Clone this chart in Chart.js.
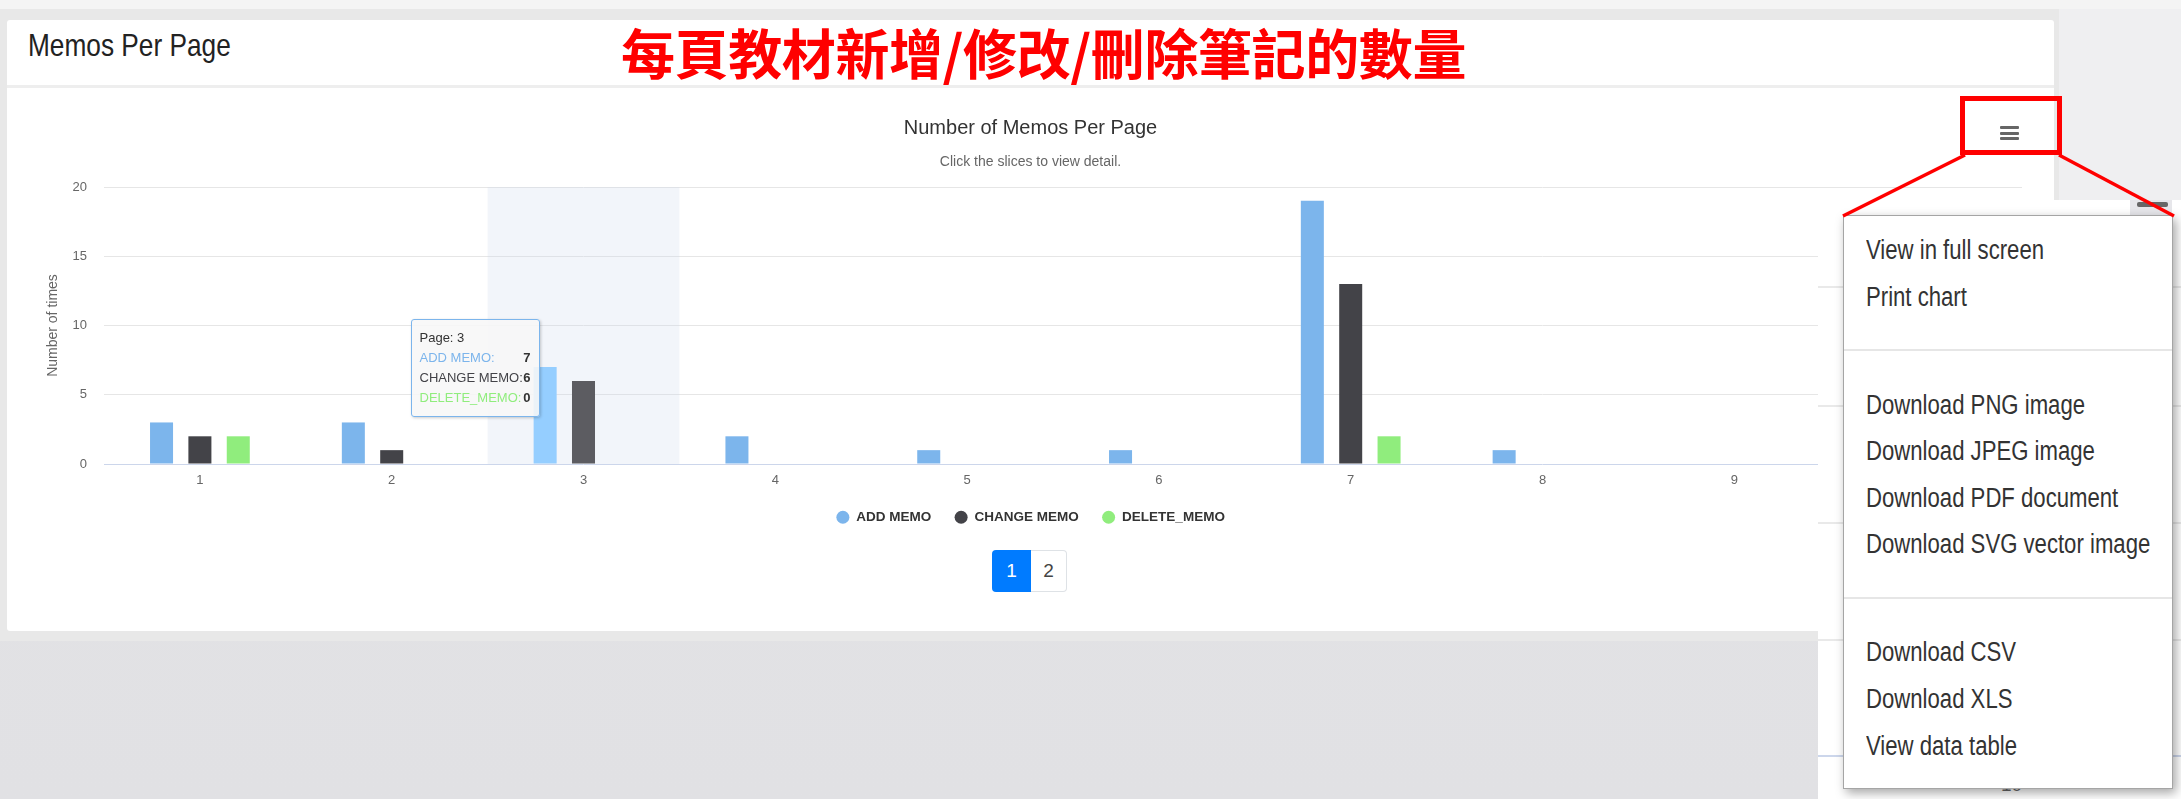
<!DOCTYPE html>
<html>
<head>
<meta charset="utf-8">
<script src="https://cdn.jsdelivr.net/npm/chart.js@4.4.1/dist/chart.umd.min.js"></script>
<style>
  html, body { margin: 0; padding: 0; }
  body {
    width: 2181px; height: 799px; position: relative; overflow: hidden;
    background: linear-gradient(#e4e4e6, #e1e1e4);
    font-family: 'Liberation Sans', Arial, sans-serif;
  }
  .abs { position: absolute; }
  #topStrip { left: 0; top: 0; width: 2181px; height: 9px; background: #f4f4f4; }
  #frame { left: 0; top: 9px; width: 2059px; height: 632px; background: #e8e8e8; }
  #rightBg { left: 2059px; top: 9px; width: 122px; height: 790px; background: #efeff1; }
  #card { left: 7px; top: 20px; width: 2047px; height: 611px; background: #fff; border-radius: 3px; }
  #cardHead { left: 0; top: 0; width: 2047px; height: 65px; border-bottom: 3px solid #eeeeee; }
  #headTitle { left: 21px; top: 9px; font-size: 32px; line-height: 32px; color: #222;
    transform: scaleX(0.82); transform-origin: left center; white-space: nowrap; }
  #redTitle { left: 621px; top: 25px; font-family: 'Noto Sans CJK TC', sans-serif; font-weight: 700;
    font-size: 54px; line-height: 54px; letter-spacing: -0.4px; color: #ff0000; white-space: nowrap; }
  #chartBox { left: 7px; top: 88px; width: 2047px; height: 446px; }
  #chartBox canvas { display: block; }
  #burger { left: 2000px; top: 126px; width: 19px; height: 14px; }
  #burger i { position: absolute; left: 0; width: 19px; height: 3px; background: #666; border-radius: 1px; }
  #tip { display: none; width: 111px; padding: 8px 8px; border: 1px solid #7cb5ec; border-radius: 3px;
    background: rgba(247,247,247,0.88); box-shadow: 1px 1px 3px rgba(0,0,0,0.2);
    font-size: 13px; color: #333; pointer-events: none; }
  #tip .row { display: flex; justify-content: space-between; height: 20px; line-height: 20px; white-space: nowrap; }
  #tip .row b { color: #333; }
  #pager { left: 992px; top: 550px; height: 42px; display: flex; }
  #pager div { height: 42px; line-height: 42px; text-align: center; font-size: 19px; box-sizing: border-box; }
  #pager .on { width: 39px; background: #007bff; color: #fff; border-radius: 4px 0 0 4px; }
  #pager .off { width: 36px; background: #fff; color: #444; border: 1px solid #dee2e6; border-left: none; border-radius: 0 4px 4px 0; line-height: 40px; }
  #paste { left: 1818px; top: 200px; width: 363px; height: 599px; background: #fff; overflow: hidden; }
  #paste .g { position: absolute; left: 0; width: 363px; height: 2px; background: #e9e9e9; }
  #paste .b { background: #ccd6eb; }
  #paste .lbl { position: absolute; left: 183px; top: 574px; font-size: 19px; color: #666; }
  #paste .btn { position: absolute; left: 312px; top: 0; width: 42px; height: 15px; background: #e6e6ea; }
  #paste .btn i { position: absolute; left: 7px; top: 2px; width: 31px; height: 5px; background: #666; border-radius: 2px; }
  #menu { left: 1843px; top: 215px; width: 328px; height: 561px; background: #fff; border: 1px solid #a5a5a5;
    box-shadow: 3px 4px 10px rgba(0,0,0,0.35); padding-top: 11px; box-sizing: content-box; }
  #menu .mi { height: 46.6px; line-height: 46.6px; padding-left: 22px; font-size: 27px; color: #333; white-space: nowrap; }
  #menu .mi span { display: inline-block; transform: scaleX(0.82); transform-origin: left center; }
  #menu .sep { position: relative; height: 61.4px; }
  #menu .sep i { position: absolute; left: 0; right: 0; top: 29px; height: 2px; background: #e6e6e6; }
  #notes { left: 0; top: 0; width: 2181px; height: 799px; pointer-events: none; }
</style>
</head>
<body>
<div id="topStrip" class="abs"></div>
<div id="frame" class="abs"></div>
<div id="rightBg" class="abs"></div>
<div id="card" class="abs">
  <div id="cardHead" class="abs"></div>
  <div id="headTitle" class="abs">Memos Per Page</div>
</div>
<div id="redTitle" class="abs">每頁教材新增/修改/刪除筆記的數量</div>
<div id="chartBox" class="abs">
  <canvas id="memoChart"></canvas>
  <div id="tip" class="abs"></div>
</div>
<div id="burger" class="abs"><i style="top:0"></i><i style="top:5.5px"></i><i style="top:11px"></i></div>
<div id="pager" class="abs"><div class="on">1</div><div class="off">2</div></div>

<div id="paste" class="abs">
  <div class="g" style="top:86px"></div>
  <div class="g" style="top:205px"></div>
  <div class="g" style="top:322px"></div>
  <div class="g" style="top:439px"></div>
  <div class="g b" style="top:555px"></div>
  <div class="lbl">10</div>
  <div class="btn"><i></i></div>
</div>

<div id="menu" class="abs">
  <div class="mi"><span>View in full screen</span></div>
  <div class="mi"><span>Print chart</span></div>
  <div class="sep"><i></i></div>
  <div class="mi"><span>Download PNG image</span></div>
  <div class="mi"><span>Download JPEG image</span></div>
  <div class="mi"><span>Download PDF document</span></div>
  <div class="mi"><span>Download SVG vector image</span></div>
  <div class="sep"><i></i></div>
  <div class="mi"><span>Download CSV</span></div>
  <div class="mi"><span>Download XLS</span></div>
  <div class="mi"><span>View data table</span></div>
</div>

<svg id="notes" class="abs" width="2181" height="799">
  <rect x="1962.5" y="98.5" width="97" height="54" fill="none" stroke="#ff0000" stroke-width="5"/>
  <line x1="1965" y1="155" x2="1843" y2="216" stroke="#ff0000" stroke-width="3.5"/>
  <line x1="2059" y1="155" x2="2174" y2="216" stroke="#ff0000" stroke-width="3.5"/>
</svg>

<script>
// 图表数据
const PAGES = ['1', '2', '3', '4', '5', '6', '7', '8', '9', '10'];
const ADD_MEMO = [3, 3, 7, 2, 1, 1, 19, 1, 0, null];
const CHANGE_MEMO = [2, 1, 6, 0, 0, 0, 13, 0, 0, null];
const DELETE_MEMO = [2, 0, 0, 0, 0, 0, 2, 0, 0, null];
const Y_TICKS = [0, 5, 10, 15, 20];
const SERIES_NAMES = ['ADD MEMO', 'CHANGE MEMO', 'DELETE_MEMO'];
const HOVER_PAGE = '3';

// 颜色
const SERIES_COLORS = ['#7cb5ec', '#434348', '#90ed7d'];
const HOVER_COLORS = ['#95ceff', '#5c5c61', '#a9ff96'];

const hoverIndex = PAGES.indexOf(HOVER_PAGE);

Chart.defaults.font.family = "'Liberation Sans', Arial, sans-serif";

// 悬停列的背景带
const crosshairBand = {
  id: 'crosshairBand',
  beforeDatasetsDraw(chart) {
    const xs = chart.scales.x;
    const area = chart.chartArea;
    const w = xs.width / PAGES.length;
    const cx = xs.getPixelForValue(hoverIndex);
    const ctx = chart.ctx;
    ctx.save();
    ctx.fillStyle = 'rgba(204,214,235,0.25)';
    ctx.fillRect(cx - w / 2, area.top, w, area.bottom - area.top);
    ctx.restore();
  }
};

// HTML 提示框
function htmlTooltip({chart, tooltip}) {
  const el = document.getElementById('tip');
  if (tooltip.opacity === 0 || !tooltip.dataPoints) {
    el.style.display = 'none';
    return;
  }
  const pts = tooltip.dataPoints;
  let html = '<div class="row"><span>Page: ' + pts[0].label + '</span></div>';
  pts.forEach(p => {
    html += '<div class="row"><span style="color:' + SERIES_COLORS[p.datasetIndex] + '">' +
      p.dataset.label + ':</span><b>' + p.raw + '</b></div>';
  });
  el.innerHTML = html;
  const xs = chart.scales.x, ys = chart.scales.y;
  el.style.left = (xs.getPixelForValue(pts[0].dataIndex) - 173) + 'px';
  el.style.top = ys.getPixelForValue(10.5) + 'px';
  el.style.display = 'block';
}

const seriesData = [ADD_MEMO, CHANGE_MEMO, DELETE_MEMO];
const datasets = seriesData.map((data, i) => ({
  label: SERIES_NAMES[i],
  data: data,
  backgroundColor: c => c.dataIndex === hoverIndex ? HOVER_COLORS[i] : SERIES_COLORS[i],
  borderWidth: 0,
  categoryPercentage: 0.6,
  barPercentage: 0.6
}));

const ctx = document.getElementById('memoChart');
const chart = new Chart(ctx, {
  type: 'bar',
  data: { labels: PAGES, datasets: datasets },
  plugins: [crosshairBand],
  options: {
    responsive: true,
    maintainAspectRatio: false,
    animation: false,
    layout: { padding: 0 },
    plugins: {
      title: {
        display: true,
        text: 'Number of Memos Per Page',
        color: '#333',
        font: { size: 20, weight: 'normal' },
        padding: { top: 28, bottom: 0 }
      },
      subtitle: {
        display: true,
        text: 'Click the slices to view detail.',
        color: '#666',
        font: { size: 14 },
        padding: { top: 13.6, bottom: 16.6 }
      },
      legend: {
        position: 'bottom',
        labels: {
          usePointStyle: true,
          pointStyle: 'circle',
          boxWidth: 16,
          boxHeight: 9.2,
          padding: 23,
          color: '#333',
          font: { size: 13.5, weight: 'bold' }
        }
      },
      tooltip: {
        enabled: false,
        mode: 'index',
        intersect: false,
        external: htmlTooltip
      }
    },
    scales: {
      x: {
        grid: { display: false, drawTicks: false },
        border: { display: false },
        ticks: { color: '#666', font: { size: 13 }, padding: 9 },
        afterFit(s) { s.height = 23.5; }
      },
      y: {
        min: 0,
        max: 20,
        afterBuildTicks(s) { s.ticks = Y_TICKS.map(v => ({ value: v })); },
        grid: {
          color: c => c.tick && c.tick.value === 0 ? '#ccd6eb' : '#e6e6e6',
          drawTicks: false
        },
        border: { display: false },
        ticks: { color: '#666', font: { size: 13 }, padding: 17 },
        title: {
          display: true,
          text: 'Number of times',
          color: '#666',
          font: { size: 14 },
          padding: { top: 38.2, bottom: 0 }
        },
        afterFit(s) { s.width = 97; }
      },
      yRight: {
        axis: 'y',
        type: 'linear',
        position: 'right',
        grid: { display: false },
        border: { display: false },
        ticks: { display: false },
        afterFit(s) { s.width = 32; }
      }
    }
  }
});

// 显示第3页的提示框
chart.tooltip.setActiveElements(
  datasets.map((d, i) => ({ datasetIndex: i, index: hoverIndex })),
  { x: chart.scales.x.getPixelForValue(hoverIndex), y: chart.scales.y.getPixelForValue(10) }
);
chart.update();
</script>
</body>
</html>
